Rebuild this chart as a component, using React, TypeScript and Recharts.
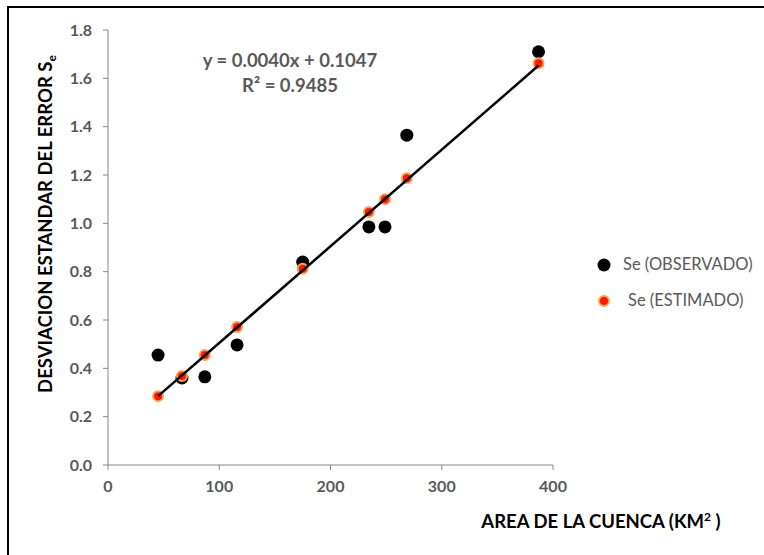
import React from 'react';
import { ScatterChart, Scatter, XAxis, YAxis, Label } from 'recharts';

// area de la cuenca (km2) and standard error
const areas = [45, 66.5, 87, 116, 175, 234.5, 249, 268.6, 387];
const seObservado = [0.455, 0.36, 0.365, 0.497, 0.84, 0.985, 0.985, 1.365, 1.71];
const seEstimado = [0.285, 0.368, 0.455, 0.571, 0.812, 1.047, 1.1, 1.187, 1.662];

// trendline ends (first and last area)
const trendX = [45, 387];
const trendY = [0.285, 1.653];

const xTicks = [0, 100, 200, 300, 400];
const yTicks = [0, 0.2, 0.4, 0.6, 0.8, 1.0, 1.2, 1.4, 1.6, 1.8];

const observado = areas.map((x, i) => ({ x, y: seObservado[i] }));
const estimado = areas.map((x, i) => ({ x, y: seEstimado[i] }));
const trend = trendX.map((x, i) => ({ x, y: trendY[i] }));

const FONT = 'Lato, "Open Sans", sans-serif';
const GREY = '#595959';
const AXIS = '#868686';

const BlackDot = (props: any) => <circle cx={props.cx} cy={props.cy} r={6.5} fill="#000" />;
const RedDot = (props: any) => (
  <circle cx={props.cx} cy={props.cy} r={5} fill="#FF1A00" stroke="#F7A35C" strokeWidth={2} />
);
const NoDot = () => <g />;

const App: React.FC = () => {
  return (
    <div style={{ position: 'absolute', left: 0, top: 0, width: 764, height: 555, background: '#fff', overflow: 'hidden' }}>
      <div
        style={{
          position: 'absolute',
          left: 7,
          top: 6,
          width: 800,
          height: 600,
          borderLeft: '2.5px solid #000',
          borderTop: '2.5px solid #000',
        }}
      />
      <div style={{ position: 'absolute', left: 0, top: 0 }}>
        <ScatterChart width={764} height={555} margin={{ top: 30, right: 211, bottom: 0, left: 0 }}>
          <XAxis
            type="number"
            dataKey="x"
            domain={[0, 400]}
            ticks={xTicks}
            height={90}
            stroke={AXIS}
            tickSize={5}
            tickMargin={11}
            tick={{ fill: GREY, fontFamily: FONT, fontWeight: 700, fontSize: 16 }}
          >
            <Label
              content={() => (
                <text x={601} y={528} textAnchor="middle" fontFamily={FONT} fontWeight={700} fontSize={18.5} fill="#000">
                  AREA DE LA CUENCA (KM
                  <tspan fontSize={12} dy={-7}>2</tspan>
                  <tspan dy={7}> )</tspan>
                </text>
              )}
            />
          </XAxis>
          <YAxis
            type="number"
            dataKey="y"
            domain={[0, 1.8]}
            ticks={yTicks}
            width={108}
            stroke={AXIS}
            tickSize={5}
            tickMargin={11}
            tickFormatter={(v: number) => v.toFixed(1)}
            tick={{ fill: GREY, fontFamily: FONT, fontWeight: 700, fontSize: 16 }}
          >
            <Label
              content={() => (
                <text
                  x={0}
                  y={0}
                  transform="translate(52,224) rotate(-90)"
                  textAnchor="middle"
                  fontFamily={FONT}
                  fontWeight={700}
                  fontSize={18.5}
                  fill="#000"
                >
                  DESVIACION ESTANDAR DEL ERROR S
                  <tspan fontSize={12} dy={4}>e</tspan>
                </text>
              )}
            />
          </YAxis>
          <Scatter data={observado} shape={BlackDot} isAnimationActive={false} />
          <Scatter data={estimado} shape={RedDot} isAnimationActive={false} />
          <Scatter
            data={trend}
            shape={NoDot}
            line={{ stroke: '#000', strokeWidth: 2.5 }}
            isAnimationActive={false}
          />
          <text x={290} y={67} textAnchor="middle" fontFamily={FONT} fontWeight={700} fontSize={18.5} fill={GREY}>
            y = 0.0040x + 0.1047
          </text>
          <text x={290} y={92} textAnchor="middle" fontFamily={FONT} fontWeight={700} fontSize={18.5} fill={GREY}>
            R² = 0.9485
          </text>
          <circle cx={604} cy={265} r={6.5} fill="#000" />
          <text x={623} y={270} fontFamily={FONT} fontSize={16.5} fill={GREY}>
            Se (OBSERVADO)
          </text>
          <circle cx={604} cy={301} r={5} fill="#FF1A00" stroke="#F7A35C" strokeWidth={2} />
          <text x={628} y={306} fontFamily={FONT} fontSize={16.5} fill={GREY}>
            Se (ESTIMADO)
          </text>
        </ScatterChart>
      </div>
    </div>
  );
};

export default App;
